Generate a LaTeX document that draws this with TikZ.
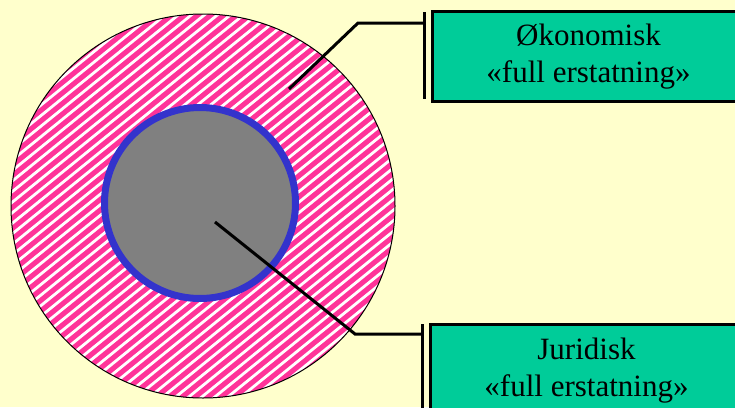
\documentclass[tikz,border=0pt]{standalone}
\usepackage{fontspec}
\setmainfont{Liberation Serif}
\usetikzlibrary{calc}
\definecolor{bgyellow}{HTML}{FFFFCC}
\definecolor{hotpink}{HTML}{FF3399}
\definecolor{ringblue}{HTML}{3333CC}
\definecolor{labelgreen}{HTML}{00CC99}
\tikzset{
  labelbox/.style={draw=black, line width=3, fill=labelgreen, minimum width=312, minimum height=90,
    align=center, inner sep=0, font=\fontsize{31}{37}\selectfont},
  pointer/.style={black, line width=3},
}

\begin{document}
\begin{tikzpicture}[x=1pt,y=-1pt]
\fill[bgyellow] (0,0) rectangle (735,407);
\useasboundingbox (0,0) rectangle (735,407);

\coordinate (O) at (203,206);
\coordinate (C) at (200,203);

% striped outer disc
\begin{scope}
\clip (O) circle (192pt);
\fill[hotpink] (O) circle (192pt);
\begin{scope}[rotate around={39:(O)}]
\foreach \k in {-26,...,26}
  \draw[white, line width=2.8] ($(O)+(-220,\k*8.2)$) -- +(440,0);
\end{scope}
\end{scope}
\draw[black, line width=1] (O) circle (192pt);

% inner disc
\draw[ringblue, line width=7, fill=gray] (C) circle (95.5pt);

\node[labelbox, anchor=north west] (okbox) at (431,10) {Økonomisk\\«full erstatning»};
\node[labelbox, anchor=north west, minimum height=92] (jurbox) at (429,323) {Juridisk\\«full erstatning»};

\coordinate (okbarT) at (424,12);
\coordinate (okbarB) at (424,99);
\coordinate (jurbarT) at (422,324);
\coordinate (jurbarB) at (422,410);
\draw[pointer] (okbarT) -- (okbarB);
\draw[pointer] (jurbarT) -- (jurbarB);

\coordinate (okfoot) at (289,89);
\coordinate (okknee) at (358,23);
\coordinate (jurfoot) at (215,222);
\coordinate (jurknee) at (355,334);
\draw[pointer] (okfoot) -- (okknee) -- (okknee -| okbarT);
\draw[pointer] (jurfoot) -- (jurknee) -- (jurknee -| jurbarT);

\end{tikzpicture}
\end{document}
